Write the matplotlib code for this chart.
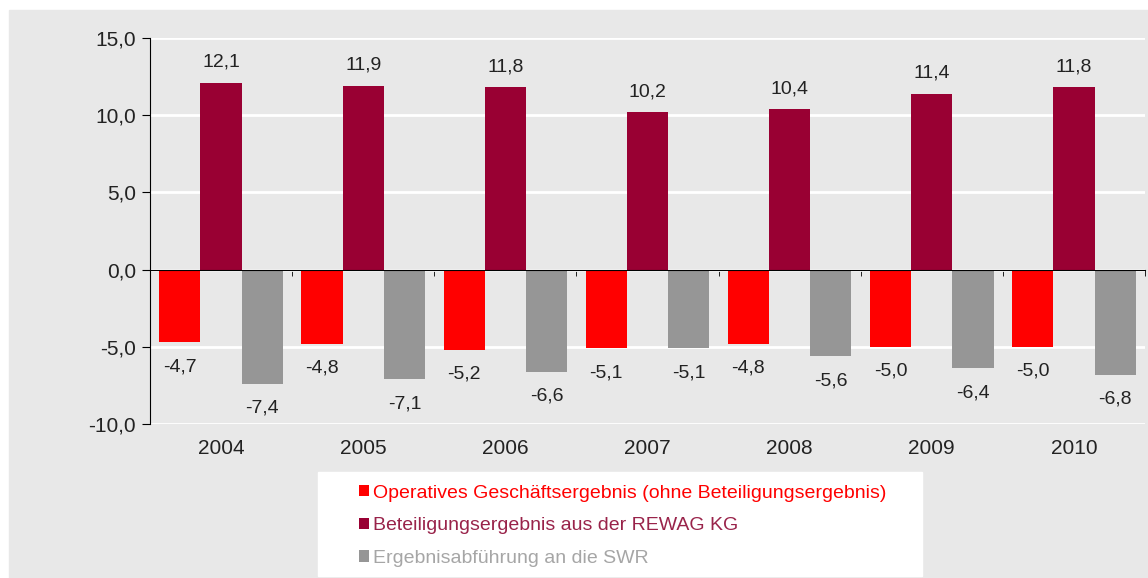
import matplotlib.pyplot as plt
import numpy as np
from matplotlib.patches import Rectangle, Patch
from matplotlib.ticker import FuncFormatter, FixedLocator

plt.rcParams['font.family'] = ['Liberation Sans', 'DejaVu Sans']

# Daten (Mio. EUR)
jahre = ['2004', '2005', '2006', '2007', '2008', '2009', '2010']
operativ = [-4.7, -4.8, -5.2, -5.1, -4.8, -5.0, -5.0]
beteiligung = [12.1, 11.9, 11.8, 10.2, 10.4, 11.4, 11.8]
abfuehrung = [-7.4, -7.1, -6.6, -5.1, -5.6, -6.4, -6.8]

namen = ['Operatives Geschäftsergebnis (ohne Beteiligungsergebnis)',
         'Beteiligungsergebnis aus der REWAG KG',
         'Ergebnisabführung an die SWR']
farben = ['#ff0000', '#990033', '#969696']
textfarben = ['#ff0000', '#99234a', '#a6a6a6']

W, H = 1148, 578
fs = 14
fig = plt.figure(figsize=(W / 100, H / 100), dpi=100)
fig.patch.set_facecolor('white')
bg = '#e8e8e8'
fig.patches.append(Rectangle((9 / W, 0), 1 - 9 / W, (H - 10) / H,
                             transform=fig.transFigure, color=bg, zorder=-5))

ax = fig.add_axes([150 / W, 1 - 424 / H, 995 / W, (424 - 38) / H])
ax.set_zorder(2)
ax.set_facecolor(bg)

x = np.arange(len(jahre))
bw = 0.29
reihen = [operativ, beteiligung, abfuehrung]
for i, (werte, farbe) in enumerate(zip(reihen, farben)):
    pos = x + (i - 1) * bw
    ax.bar(pos, werte, width=bw, color=farbe, zorder=3)
    for px, v in zip(pos, werte):
        txt = f'{v:.1f}'.replace('.', ',')
        if v >= 0:
            ax.annotate(txt, (px, v), xytext=(0, 12), textcoords='offset pixels',
                        ha='center', va='bottom', fontsize=fs, color='#222222')
        else:
            ax.annotate(txt, (px, v), xytext=(0, -16), textcoords='offset pixels',
                        ha='center', va='top', fontsize=fs, color='#222222')

ax.set_xlim(-0.5, len(jahre) - 0.5)
ax.set_ylim(-10, 15)
ax.set_yticks([-10, -5, 0, 5, 10, 15])
ax.yaxis.set_major_formatter(FuncFormatter(lambda v, p: f'{v:.1f}'.replace('.', ',')))
ax.grid(axis='y', color='white', linewidth=2, zorder=1)
ax.set_axisbelow(True)

for s in ['top', 'right']:
    ax.spines[s].set_visible(False)
ax.spines['bottom'].set_position(('data', 0))
ax.spines['bottom'].set_zorder(4)
ax.spines['left'].set_zorder(4)

ax.set_xticks(x)
ax.set_xticklabels(jahre)
ax.xaxis.set_minor_locator(FixedLocator(np.arange(-0.5, len(jahre), 1.0)))
ax.tick_params(axis='x', which='major', length=0, pad=122, labelsize=15, colors='#222222')
ax.tick_params(axis='x', which='minor', length=4, direction='out', color='black')
ax.tick_params(axis='y', length=6, direction='out', labelsize=15, labelcolor='#222222', pad=4)

# Legende
fig.patches.append(Rectangle((318 / W, 1 - 576 / H), (922 - 318) / W, (576 - 472) / H,
                             transform=fig.transFigure, color='white', zorder=-4))
handles = [Patch(facecolor=f, edgecolor='none') for f in farben]
leg = fig.legend(handles, namen, loc='upper left', bbox_to_anchor=(351 / W, 1 - 477 / H),
                 frameon=False, fontsize=14, handlelength=0.5, handleheight=0.5,
                 handletextpad=0.25, labelspacing=0.8, borderaxespad=0)
for t, c in zip(leg.get_texts(), textfarben):
    t.set_color(c)

fig.savefig('out.png', dpi=100)
